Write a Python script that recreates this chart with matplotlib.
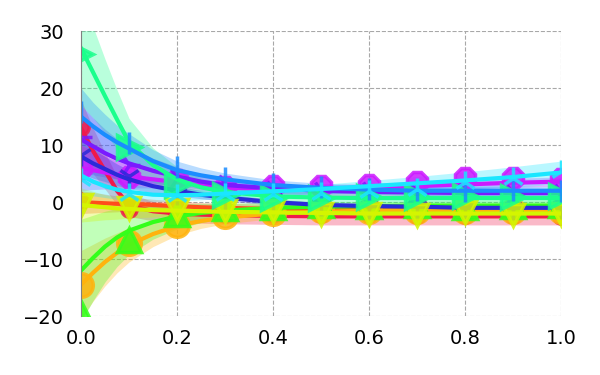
import numpy as np
import matplotlib.pyplot as plt

x = np.round(np.arange(0, 1.01, 0.1), 1)
xf = [0, 0.025, 0.05, 0.075, 0.1, 0.15, 0.2, 0.25, 0.3, 0.4, 0.5, 0.6, 0.7, 0.8, 0.9, 1.0]

# fitted curves (on xf), band half widths (on xf), data points (on x)
red_fit = [13.0, 9.0, 5.5, 2.0, -0.5, -1.6, -2.0, -2.2, -2.3, -2.4, -2.5, -2.5, -2.5, -2.5, -2.5, -2.5]
red_band = [5, 4, 3.2, 2.5, 2.0, 1.7, 1.5, 1.5, 1.5, 1.5, 1.5, 1.5, 1.5, 1.5, 1.5, 1.5]
red_pts = [13.2, -1.2, -1.8, -2.0, -2.0, -2.0, -2.1, -2.2, -2.3, -2.3, -2.5]

ored_fit = [0.0, -0.1, -0.2, -0.3, -0.3, -0.5, -0.7, -0.9, -1.0, -1.2, -1.3, -1.4, -1.5, -1.5, -1.5, -1.5]
ored_band = [2, 1.8, 1.6, 1.4, 1.2, 1.0, 0.9, 0.8, 0.8, 0.8, 0.8, 0.8, 0.8, 0.8, 0.8, 0.8]
ored_pts = [0.2, -0.5, -0.6, -1.1, -1.2, -1.4, -1.3, -1.5, -1.6, -1.4, -1.5]

orange_fit = [-14.5, -12.4, -10.5, -8.9, -7.5, -5.6, -4.2, -3.3, -2.7, -2.0, -1.7, -1.5, -1.5, -1.5, -1.5, -1.5]
orange_band = [6, 5, 4.2, 3.5, 3.0, 2.2, 1.6, 1.3, 1.1, 0.9, 0.8, 0.8, 0.8, 0.8, 0.8, 0.8]
orange_pts = [-14.6, -7.2, -4.0, -2.4, -1.9, -1.4, -1.6, -1.5, -1.5, -1.6, -1.5]

green_fit = [-12.0, -9.8, -7.8, -6.2, -5.0, -3.5, -2.5, -1.9, -1.5, -1.0, -0.8, -0.7, -0.6, -0.6, -0.6, -0.6]
green_band = [9, 7.5, 6.2, 5.1, 4.2, 3.0, 2.2, 1.7, 1.3, 1.0, 0.8, 0.8, 0.8, 0.8, 0.8, 0.8]
green_pts = [-19.5, -6.7, -2.0, -1.0, -0.8, -0.5, -0.6, -0.5, -0.8, -0.6, -0.5]

purple_fit = [6.0, 5.6, 5.2, 4.8, 4.5, 4.0, 3.5, 3.0, 2.6, 2.2, 2.2, 2.5, 2.8, 3.1, 3.4, 3.6]
purple_band = [4, 3.4, 2.9, 2.4, 2.0, 1.5, 1.2, 1.0, 0.9, 0.8, 0.8, 0.8, 0.8, 0.8, 0.8, 0.8]
purple_pts = [6.0, 4.4, 3.9, 2.6, 2.8, 2.8, 3.0, 3.5, 4.2, 4.2, 4.0]

violet_fit = [11.0, 9.8, 8.6, 7.6, 6.8, 5.5, 4.5, 3.6, 3.0, 2.4, 2.0, 1.8, 1.7, 1.6, 1.6, 1.6]
violet_band = [6, 5, 4.2, 3.5, 3.0, 2.2, 1.7, 1.3, 1.1, 0.9, 0.8, 0.8, 0.8, 0.8, 0.8, 0.8]
violet_pts = [11.5, 6.5, 4.2, 3.2, 2.2, 2.0, 1.9, 1.6, 1.7, 1.5, 1.6]

blue_fit = [8.0, 6.8, 5.8, 4.8, 4.0, 2.8, 2.0, 1.3, 0.8, 0.0, -0.5, -0.7, -0.8, -1.0, -1.0, -1.0]
blue_band = [3, 2.6, 2.2, 1.9, 1.6, 1.2, 0.9, 0.7, 0.6, 0.5, 0.5, 0.5, 0.5, 0.5, 0.5, 0.5]
blue_pts = [8.2, 4.5, 1.5, 0.5, 0.3, -0.5, -1.0, -0.8, -1.0, -1.2, -1.0]

yellow_fit = [-0.5, -0.7, -0.9, -1.1, -1.2, -1.4, -1.5, -1.6, -1.7, -1.8, -1.9, -2.0, -2.0, -2.0, -2.0, -2.0]
yellow_band = [3, 2.6, 2.2, 1.9, 1.6, 1.2, 1.0, 0.9, 0.8, 0.8, 0.8, 0.8, 0.8, 0.8, 0.8, 0.8]
yellow_pts = [-0.5, -1.0, -1.4, -1.5, -1.6, -2.0, -2.0, -2.3, -1.8, -2.2, -2.0]

spring_fit = [27.0, 22.8, 18.6, 14.5, 10.5, 6.5, 4.0, 2.6, 1.8, 1.0, 0.8, 0.7, 0.7, 0.7, 0.7, 0.7]
spring_band = [10, 8, 6.5, 5.2, 4.2, 3.0, 2.2, 1.6, 1.3, 1.0, 0.9, 0.8, 0.8, 0.8, 0.8, 0.8]
spring_pts = [26.0, 9.6, 3.0, 1.2, 0.7, 0.7, 0.9, 0.9, 1.0, 0.9, 1.0]

azure_fit = [15.0, 13.3, 11.8, 10.5, 9.4, 7.2, 5.6, 4.7, 4.0, 3.0, 2.5, 2.2, 2.0, 2.0, 2.0, 2.0]
azure_band = [5, 4.2, 3.6, 3.0, 2.6, 2.0, 1.6, 1.3, 1.1, 0.9, 0.8, 0.8, 0.8, 0.8, 0.8, 0.8]
azure_pts = [15.8, 10.4, 6.1, 4.2, 3.2, 2.7, 2.3, 2.2, 2.0, 2.1, 1.9]

cyan_fit = [4.7, 3.6, 2.8, 2.2, 1.8, 1.3, 1.2, 1.3, 1.5, 1.9, 2.3, 2.8, 3.3, 3.8, 4.4, 5.2]
cyan_band = [3, 2.5, 2.0, 1.7, 1.5, 1.2, 1.0, 0.9, 0.8, 0.8, 0.8, 1.0, 1.2, 1.5, 1.8, 2.0]
cyan_pts = [4.0, 1.5, 1.2, 1.5, 1.5, 1.6, 2.0, 2.3, 3.5, 4.2, 5.5]

series = [
    (red_fit, red_band, red_pts, "#f0194a", "o", 11),
    (ored_fit, ored_band, ored_pts, "#ff4d1a", "p", 11),
    (orange_fit, orange_band, orange_pts, "#ffb30d", "o", 17),
    (green_fit, green_band, green_pts, "#33ff1a", "^", 17),
    (purple_fit, purple_band, purple_pts, "#cc1aff", "8", 16),
    (violet_fit, violet_band, violet_pts, "#7a1aff", "4", 16),
    (blue_fit, blue_band, blue_pts, "#2a2ad9", "1", 16),
    (yellow_fit, yellow_band, yellow_pts, "#d4f500", "v", 16),
    (spring_fit, spring_band, spring_pts, "#1aff8c", ">", 17),
    (azure_fit, azure_band, azure_pts, "#1a8cff", "|", 16),
    (cyan_fit, cyan_band, cyan_pts, "#1ae6ff", "2", 16),
]

fig = plt.figure(figsize=(6, 3.75), dpi=100)
ax = fig.add_axes([0.135, 0.157, 0.8, 0.76])

for fit, band, pts, c, m, ms in series:
    fit = np.array(fit)
    band = np.array(band)
    ax.fill_between(xf, fit - band, fit + band, color=c, alpha=0.3, lw=0)

for fit, band, pts, c, m, ms in series:
    ax.plot(xf, fit, color=c, lw=3)
    ax.plot(x, pts, ls="none", marker=m, ms=ms, color=c, mew=2.5, alpha=0.85)

ax.set_xlim(0, 1)
ax.set_ylim(-20, 30)
ax.set_xticks([0, 0.2, 0.4, 0.6, 0.8, 1.0])
ax.set_yticks([-20, -10, 0, 10, 20, 30])
ax.grid(True, ls="--", color="#a8a8a8", lw=0.8)
ax.set_axisbelow(True)
for s in ["top", "right", "bottom"]:
    ax.spines[s].set_visible(False)
ax.spines["left"].set_color("#808080")
ax.tick_params(axis="both", length=0, labelsize=14)
ax.tick_params(axis="x", pad=9)
ax.tick_params(axis="y", pad=12)

plt.savefig("out.png", dpi=100)
